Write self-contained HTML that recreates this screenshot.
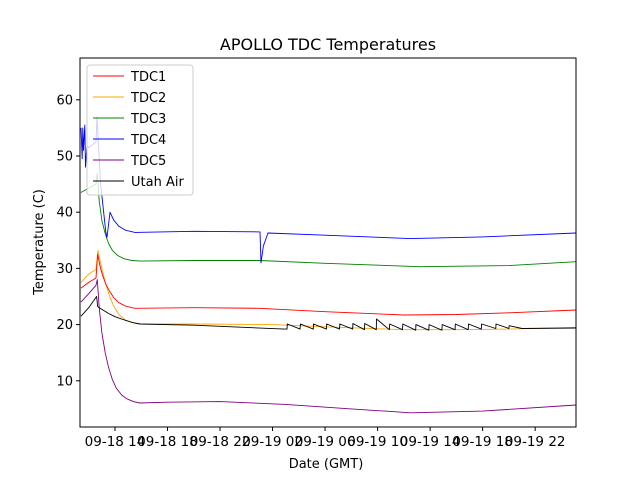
<!DOCTYPE html>
<html><head><meta charset="utf-8"><style>
body{margin:0;background:#fff;}
svg{font-family:"DejaVu Sans","Liberation Sans",sans-serif;}
</style></head><body>
<svg id="c" width="640" height="480">
<rect width="640" height="480" fill="#fff"/>
<text x="328" y="50" text-anchor="middle" font-size="16">APOLLO TDC Temperatures</text>
<text x="326" y="468" text-anchor="middle" font-size="13">Date (GMT)</text>
<text transform="translate(43,242) rotate(-90)" text-anchor="middle" font-size="13">Temperature (C)</text>
<g id="ticks"></g>
<g id="series"></g>
<rect x="80" y="58" width="496" height="369" fill="none" stroke="#000" stroke-width="1"/>
<g id="legend"></g>
</svg>
<script>
// time in hours since 09-18 00:00
const xTicks=[14,18,22,26,30,34,38,42,46];
const xTickLabels=["09-18 14","09-18 18","09-18 22","09-19 02","09-19 06","09-19 10","09-19 14","09-19 18","09-19 22"];
const yTicks=[10,20,30,40,50,60];
const names=["TDC1","TDC2","TDC3","TDC4","TDC5","Utah Air"];
const colors=["red","orange","green","blue","purple","black"];
const tdc1T=[11.41,12.0,12.55,12.68,12.85,13.05,13.3,13.6,13.9,14.3,14.8,15.5,20,25,30,36,40,44,49.11];
const tdc1V=[26.5,27.5,28.3,32.5,30.5,28.8,27.2,25.9,24.8,23.9,23.3,22.9,23,22.9,22.3,21.7,21.8,22.1,22.6];
const tdc2T=[11.41,12.0,12.55,12.7,12.85,13.05,13.3,13.6,13.9,14.3,14.8,15.4,16,20,26,30,36,40,44,49.11];
const tdc2V=[27.5,29,29.8,33.2,31.5,29.5,27.2,25,23.3,21.8,20.8,20.3,20.1,20.1,20,19.6,19.1,19.1,19.2,19.5];
const tdc3T=[11.41,12.0,12.55,12.65,12.8,13.0,13.25,13.5,13.8,14.2,14.7,15.3,15.9,20,25,30,37.2,44,49.11];
const tdc3V=[43.5,44.3,45,47,42,38.5,36.2,34.5,33.2,32.3,31.7,31.4,31.3,31.4,31.4,30.9,30.3,30.5,31.2];
const tdc4T=[11.41,11.5,11.55,11.6,11.7,11.75,11.85,12.0,12.55,12.63,12.9,13.3,13.39,13.62,13.9,14.3,14.8,15.52,20,25.04,25.12,25.3,25.65,30,36.47,42,49.11];
const tdc4V=[55,49.5,55,51,55.5,48,51.5,51.5,52.5,57,45,36.5,35.5,40,38.6,37.5,36.8,36.4,36.6,36.5,31,34,36.3,35.9,35.3,35.6,36.3];
const tdc5T=[11.41,12.0,12.55,12.65,12.8,13.0,13.25,13.5,13.8,14.1,14.5,14.9,15.4,15.9,18,22,27,32,36.5,42,49.11];
const tdc5V=[24,25.5,27,28,23,18.5,15,12.5,10.2,8.7,7.5,6.8,6.3,6.05,6.2,6.3,5.8,5,4.3,4.6,5.7];
const airT=[11.41,12.0,12.6,12.68,13.0,13.5,14.0,14.6,15.3,15.9,20,26.9];
const airV=[21.5,23,25,23.2,22.7,22,21.4,20.9,20.4,20.1,19.9,19.2];
const toothT=[27.1,28.1,29.1,30.1,31.1,32.1,33.0,33.9,34.9,35.9,36.9,37.9,38.9,39.9,40.9,41.9,43.0,44.0];
const toothBase=[19.2,19.2,19.2,19.2,19.2,19.2,19.1,19.1,19.1,19.1,19.0,19.0,19.0,19.1,19.1,19.2,19.3,19.3];
const toothH=[0.9,0.9,0.9,0.9,0.9,1.0,1.1,1.9,1.0,1.0,1.0,1.0,1.0,1.0,1.0,0.9,0.8,0.5];
const airEndT=[45,49.11];
const airEndV=[19.3,19.4];

const X=h=>115+(h-14)*13.13;
const Y=v=>437-5.62*v;
const NS="http://www.w3.org/2000/svg";
function mk(tag,attrs,parent){const e=document.createElementNS(NS,tag);for(const k in attrs)e.setAttribute(k,attrs[k]);parent.appendChild(e);return e;}
const tg=document.getElementById('ticks');
xTicks.forEach((t,i)=>{
  const l=mk('line',{x1:X(t),x2:X(t),y1:427,y2:431,stroke:'#000'},tg);
  
  
  const tx=mk('text',{x:X(t),y:446,'text-anchor':'middle','font-size':'13.5'},tg);
  tx.textContent=xTickLabels[i];
  
  
});
yTicks.forEach(v=>{
  const l=mk('line',{x1:76,x2:80,y1:Y(v),y2:Y(v),stroke:'#000'},tg);
  
  
  const tx=mk('text',{x:73,y:Y(v)+4.5,'text-anchor':'end','font-size':'13'},tg);
  tx.textContent=v;
  
  
});
const aT=airT.slice(),aV=airV.slice();
toothT.forEach((t,i)=>{aT.push(t);aV.push(toothBase[i]);aT.push(t+0.02);aV.push(toothBase[i]+toothH[i]);});
airEndT.forEach((t,i)=>{aT.push(t);aV.push(airEndV[i]);});
const series=[[tdc1T,tdc1V],[tdc2T,tdc2V],[tdc3T,tdc3V],[tdc4T,tdc4V],[tdc5T,tdc5V],[aT,aV]];
const sg=document.getElementById('series');
[1,0,2,3,4,5].forEach(i=>{
  const [T,V]=series[i];
  const d=T.map((t,j)=>(j?'L':'M')+X(t).toFixed(1)+','+Y(V[j]).toFixed(1)).join('');
  const p=mk('path',{d:d,fill:'none',stroke:colors[i],'stroke-width':'0.9','stroke-linejoin':'round'},sg);
  
  
});
const lg=document.getElementById('legend');
const box=mk('rect',{x:87,y:65,width:106,height:130,rx:3,fill:'#fff','fill-opacity':0.8,stroke:'#ccc'},lg);


names.forEach((n,i)=>{
  const y=76+i*21;
  const l=mk('line',{x1:93,x2:124,y1:y,y2:y,stroke:colors[i],'stroke-width':'0.9'},lg);
  
  
  const t=mk('text',{x:131,y:y+5,'font-size':'13'},lg);
  t.textContent=n;
  
  
});
</script>
</body></html>
